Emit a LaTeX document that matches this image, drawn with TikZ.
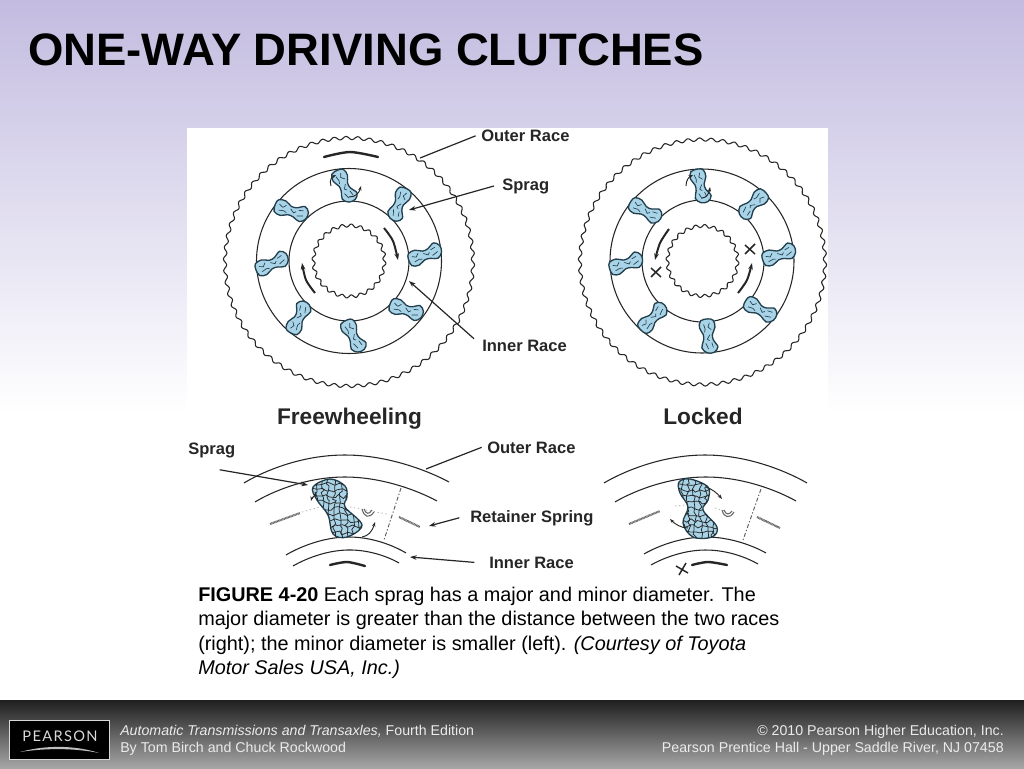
\documentclass[tikz,border=0pt]{standalone}
\usepackage{fontspec}
\setmainfont{Liberation Sans}
\newfontfamily\logofont[LetterSpace=9]{Lato}
\usetikzlibrary{arrows.meta,decorations.pathmorphing}
\definecolor{ink}{HTML}{262626}
\definecolor{spragblue}{HTML}{A9D4E8}
\definecolor{spragedge}{HTML}{23404F}
\definecolor{lav}{HTML}{C3BCE0}
\tikzset{
  lab/.style={font=\fontsize{12.4}{14}\selectfont\bfseries,text=ink,inner sep=0pt,anchor=base west},
  bigl/.style={font=\fontsize{17}{20}\selectfont\bfseries,text=ink,inner sep=0pt,anchor=base},
  ring/.style={draw=ink,line width=0.8pt},
  lead/.style={draw=ink,line width=0.9pt},
  leada/.style={lead,-{Stealth[length=5pt,width=3.5pt]}},
  thickarc/.style={draw=ink,line width=1.8pt,line cap=round},
  flow/.style={draw=ink,line width=1.5pt,-{Stealth[length=5pt,width=3.5pt]}},
  tiny/.style={draw=ink,line width=0.7pt,-{Stealth[length=3.5pt,width=2.5pt]}},
  foot/.style={font=\fontsize{10.65}{12}\selectfont,text=white!92!black,inner sep=0pt},
  hatchd/.style={draw=ink!70,line width=1.6pt,dash pattern=on 0.7pt off 0.4pt},
  dashl/.style={draw=ink!75,line width=0.7pt,dash pattern=on 3pt off 1.5pt on 1pt off 1.5pt},
  faint/.style={draw=gray!60,line width=0.6pt,dash pattern=on 1pt off 2pt},
  squig/.style={black!85,line width=0.55pt,decorate,decoration={random steps,segment length=3pt,amplitude=1.5pt}},
}
% wavy ring: cx cy r halfteeth amp (angle kept small: 2 sin cos)
\newcommand\wavyring[5]{\draw[ring] plot[domain=0:360,samples=800] ({#1+(#3+2*#5*sin(#4*\x)*cos(#4*\x))*cos(\x)},{#2+(#3+2*#5*sin(#4*\x)*cos(#4*\x))*sin(\x)}) -- cycle;}
% sprag: x y angle-downward
\newcommand\spragb[3]{\begin{scope}[shift={(#1,#2)},rotate=-#3]
 \draw[fill=spragblue,draw=spragedge,line width=1pt] plot[smooth cycle,tension=0.6] coordinates {(-17,-2)(-15,-7)(-8,-8)(-1,-4.5)(5,-5)(12,-8.5)(17,-4)(16.5,3)(11,7.5)(4,5)(-2,4.5)(-9,7.5)(-16,5.5)};
 \draw[spragedge,line width=0.5pt] (-13,-3)--(-9,-1)--(-6,-4) (-12,3)--(-7,2)--(-4,3) (-1,-2)--(3,1)--(5,-1) (7,-3)--(12,-4) (7,3)--(13,1);
 \end{scope}}
\begin{document}
\begin{tikzpicture}[x=0.75pt,y=-0.75pt]
\useasboundingbox (0,0) rectangle (1024,768);
% background
\fill[white] (0,0) rectangle (1024,768);
\shade[top color=lav,bottom color=white] (0,0) rectangle (1024,415);
\fill[white] (187,128) rectangle (828,585);
% footer
\shade[top color=black!88,bottom color=black!35] (0,700) rectangle (1024,768);
\node[font=\fontsize{34.1}{38}\selectfont\bfseries,text=black,anchor=west,inner sep=0pt] (title) at (28,50) {ONE-WAY DRIVING CLUTCHES};

% ---------- left wheel
\wavyring{349}{262}{124}{33}{1.6}
\draw[ring] (349,261) circle[radius=92.5];
\draw[ring] (349,261) circle[radius=60];
\wavyring{349}{261}{35.5}{12}{1.5}
\spragb{344}{186}{63}
\spragb{399}{204}{112}
\spragb{425}{255}{-20}
\spragb{406}{310}{18}
\spragb{353}{336}{63}
\spragb{299}{318}{-63}
\spragb{272}{264}{-24}
\spragb{291}{211}{18}
\draw[thickarc] plot[smooth] coordinates {(324,157)(350,152)(378,157)};
\draw[flow] plot[smooth] coordinates {(384,228)(393,241)(398,260)};
\draw[flow] plot[smooth] coordinates {(315,293)(306,280)(302,263)};
\draw[tiny] (331,186) .. controls (329,180) and (332,177) .. (336,175);
\draw[tiny] (349,197) .. controls (356,197) and (359,193) .. (361,186);

% ---------- right wheel
\wavyring{702.5}{262}{122.5}{33}{1.6}
\draw[ring] (702,261) circle[radius=92];
\draw[ring] (703,261) circle[radius=61];
\wavyring{702.5}{261}{35}{12}{1.5}
\spragb{700}{186}{76}
\spragb{753}{204}{135}
\spragb{779}{255}{-19}
\spragb{760}{310}{29}
\spragb{708}{336}{83}
\spragb{653}{318}{-47}
\spragb{626}{264}{-19}
\spragb{645}{211}{29}
\draw[flow] plot[smooth] coordinates {(669,229)(660,243)(655,260)};
\draw[flow] plot[smooth] coordinates {(738,293)(747,280)(752,263)};
\draw[ink,line width=1.1pt] (651,268)--(661,277) (661,267)--(651,277);
\draw[ink,line width=1.1pt] (745,245)--(755,254) (755,244)--(745,254);
\draw[tiny] (686,186) .. controls (686,180) and (689,177) .. (693,175);
\draw[tiny] (702,198) .. controls (706,198) and (709,194) .. (710,187);

% labels, wheel
\node[lab] (outerA) at (481,141.5) {Outer Race};
\node[lab] (spragA) at (502,190) {Sprag};
\node[lab] (innerA) at (482,351) {Inner Race};
\coordinate (outerAend) at (420,158);
\coordinate (spragAend) at (409,210);
\coordinate (innerAend) at (409,281);
\draw[lead] ([xshift=-4pt]outerA.west) -- (outerAend);
\draw[leada] ([xshift=-6pt]spragA.west) -- (spragAend);
\draw[leada] ([xshift=-6pt,yshift=5pt]innerA.west) -- (innerAend);

\node[bigl] (free) at (349.5,424) {Freewheeling};
\node[bigl] (lock) at (703,424) {Locked};

% ---------- lower left
\draw[ring] plot[smooth,tension=1] coordinates {(244,483)(344,455)(449,482)};
\draw[ring] plot[smooth,tension=1] coordinates {(255,502)(344,477)(437,501)};
\draw[ring] plot[smooth,tension=1] coordinates {(286,555)(347,537)(406,553)};
\draw[ring] plot[smooth,tension=1] coordinates {(293,566)(347,550)(399,563)};
\draw[thickarc] plot[smooth] coordinates {(330,565)(347,562)(365,566)};
\draw[hatchd] (270,524)--(300,513);
\draw[hatchd] (399,517)--(420,527);
\draw[faint] (302,512)--(327,505) (350,507)--(387,514);
\draw[dashl] (401,488)--(384,540);
\draw[ink!70,line width=0.8pt] (362,509) .. controls (364,517) and (369,519) .. (374,512);
\draw[ink!70,line width=0.8pt] (364,509) .. controls (366,514) and (369,515) .. (372,510);
\draw[fill=spragblue,draw=spragedge,line width=1pt] plot[smooth cycle,tension=0.6] coordinates {(313,487)(330,479)(345,486)(347,497)(345,507)(362,525)(347,537)(333,534)(328,515)(317,500)};
\begin{scope}
\clip plot[smooth cycle,tension=0.6] coordinates {(313,487)(330,479)(345,486)(347,497)(345,507)(362,525)(347,537)(333,534)(328,515)(317,500)};
\pgfmathsetseed{7}
\foreach \yy in {484,490,...,534}{\draw[squig] (310,\yy)--(365,\yy+1);}
\foreach \xx in {316,322,...,358}{\draw[squig] (\xx,478)--(\xx+1,540);}
\end{scope}
\draw[tiny] (315,492) .. controls (318,495) and (312,497) .. (311,501);
\draw[tiny] (362,537) .. controls (368,536) and (372,532) .. (375,522);
\node[lab] (spragB) at (188,454) {Sprag};
\node[lab] (outerB) at (487,453) {Outer Race};
\node[lab] (retain) at (470,522) {Retainer Spring};
\node[lab] (innerB) at (489,568) {Inner Race};
\coordinate (spragBend) at (308,485);
\coordinate (outerBend) at (426,469);
\coordinate (retainend) at (429,526);
\coordinate (innerBend) at (410,557);
\draw[leada] ([xshift=6pt,yshift=-9pt]spragB.south) -- (spragBend);
\draw[lead] ([xshift=-4pt]outerB.west) -- (outerBend);
\draw[leada] ([xshift=-8pt]retain.west) -- (retainend);
\draw[leada] ([xshift=-11pt]innerB.west) -- (innerBend);

% ---------- lower right
\draw[ring] plot[smooth,tension=1] coordinates {(604,483)(705,455)(807,483)};
\draw[ring] plot[smooth,tension=1] coordinates {(615,502)(705,477)(796,501)};
\draw[ring] plot[smooth,tension=1] coordinates {(644,554)(705,537)(766,553)};
\draw[ring] plot[smooth,tension=1] coordinates {(651,565)(705,550)(758,564)};
\draw[thickarc] plot[smooth] coordinates {(692,565)(708,562)(727,565)};
\draw[ink,line width=1.1pt] (676,566)--(688,573) (686,563)--(679,575);
\draw[hatchd] (629,524)--(660,511);
\draw[hatchd] (757,517)--(780,528);
\draw[faint] (675,506)--(685,505) (715,508)--(725,511);
\draw[dashl] (761,489)--(743,540);
\draw[ink!70,line width=0.8pt] (722,510) .. controls (724,518) and (730,519) .. (734,512);
\draw[ink!70,line width=0.8pt] (724,510) .. controls (726,515) and (729,515) .. (732,511);
\draw[fill=spragblue,draw=spragedge,line width=1pt] plot[smooth cycle,tension=0.6] coordinates {(679,482)(690,479)(708,487)(708,500)(703,510)(717,527)(712,537)(693,537)(683,523)(688,507)(680,493)};
\begin{scope}
\clip plot[smooth cycle,tension=0.6] coordinates {(679,482)(690,479)(708,487)(708,500)(703,510)(717,527)(712,537)(693,537)(683,523)(688,507)(680,493)};
\pgfmathsetseed{11}
\foreach \yy in {484,490,...,534}{\draw[squig] (675,\yy)--(720,\yy+1);}
\foreach \xx in {682,688,...,716}{\draw[squig] (\xx,478)--(\xx+1,540);}
\end{scope}
\draw[tiny] (706,487) .. controls (712,489) and (717,493) .. (722,499);
\draw[tiny] (688,528) .. controls (681,528) and (675,524) .. (670,519);

% ---------- caption
\node[anchor=north west,align=left,inner sep=0pt,text=black,font=\fontsize{14.88}{18.25}\selectfont] (cap) at (198,587)
 {\textbf{FIGURE 4-20} Each sprag has a major and minor diameter. The\\
  major diameter is greater than the distance between the two races\\
  (right); the minor diameter is smaller (left). \textit{(Courtesy of Toyota}\\
  \textit{Motor Sales USA, Inc.)}};

% ---------- footer
\node[draw=white!85!black,fill=black,line width=0.6pt,minimum width=75pt,minimum height=29pt,inner sep=0pt,anchor=north west] (logo) at (9,720) {};
\node[font=\fontsize{11}{13}\logofont,text=white!85!black,inner sep=0pt] (pear) at (60,736) {PEARSON};
\coordinate (swl) at (20,752);
\coordinate (swr) at (99,753);
\fill[white!75!black] (swl) .. controls (45,745) and (75,745) .. (swr) .. controls (75,748) and (45,748) .. (swl);
\node[foot,anchor=west] (ftA) at (120,731.5) {\textit{Automatic Transmissions and Transaxles,} Fourth Edition};
\node[foot,anchor=west] (ftB) at (120,749) {By Tom Birch and Chuck Rockwood};
\node[foot,anchor=east] (ftC) at (1004,731.5) {© 2010 Pearson Higher Education, Inc.};
\node[foot,anchor=east] (ftD) at (1004,749) {Pearson Prentice Hall - Upper Saddle River, NJ 07458};
\end{tikzpicture}
\end{document}
